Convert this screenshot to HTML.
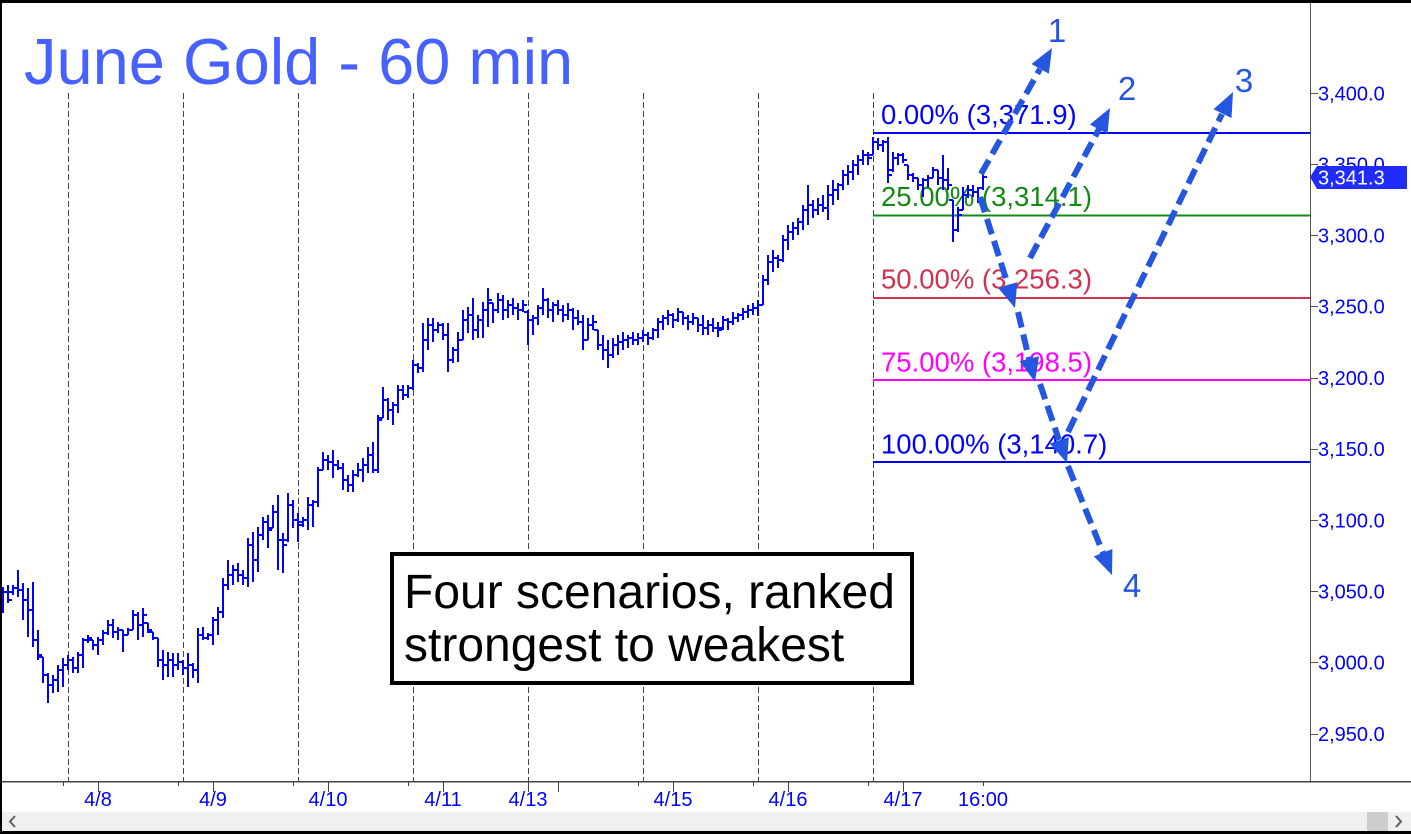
<!DOCTYPE html>
<html>
<head>
<meta charset="utf-8">
<style>
html,body{margin:0;padding:0;background:#fff;}
body{width:1411px;height:834px;overflow:hidden;position:relative;font-family:"Liberation Sans",Arial,sans-serif;}
svg{position:absolute;left:0;top:0;}
</style>
</head>
<body>
<svg width="1411" height="834" viewBox="0 0 1411 834" xmlns="http://www.w3.org/2000/svg" font-family="Liberation Sans, Arial, sans-serif">
<rect x="0" y="0" width="1411" height="834" fill="#ffffff"/>
<g stroke="#444" stroke-width="1" stroke-dasharray="6 3" shape-rendering="crispEdges">
<line x1="68.5" y1="93" x2="68.5" y2="781"/>
<line x1="183.5" y1="93" x2="183.5" y2="781"/>
<line x1="298.5" y1="93" x2="298.5" y2="781"/>
<line x1="413.5" y1="93" x2="413.5" y2="781"/>
<line x1="528.5" y1="93" x2="528.5" y2="781"/>
<line x1="643.5" y1="93" x2="643.5" y2="781"/>
<line x1="758.5" y1="93" x2="758.5" y2="781"/>
<line x1="873.5" y1="93" x2="873.5" y2="781"/>
</g>
<text x="24" y="84" font-size="65" fill="#4661ff">June Gold - 60 min</text>
<g stroke-width="2" shape-rendering="crispEdges">
<line x1="873" y1="133" x2="1310" y2="133" stroke="#0000ff"/>
<line x1="873" y1="215.5" x2="1310" y2="215.5" stroke="#138a13"/>
<line x1="873" y1="298" x2="1310" y2="298" stroke="#d23250"/>
<line x1="873" y1="380" x2="1310" y2="380" stroke="#ff00ff"/>
<line x1="873" y1="462" x2="1310" y2="462" stroke="#0000ff"/>
</g>
<g font-size="27.5">
<text x="881" y="124" fill="#0000ff">0.00% (3,371.9)</text>
<text x="881" y="206" fill="#138a13">25.00% (3,314.1)</text>
<text x="881" y="288.5" fill="#d23250">50.00% (3,256.3)</text>
<text x="881" y="371.5" fill="#ff00ff">75.00% (3,198.5)</text>
<text x="881" y="453.5" fill="#0000ff">100.00% (3,140.7)</text>
</g>
<path fill="none" stroke="#0000ff" stroke-width="2.2" shape-rendering="crispEdges" d="M3 587V613M-1 605h4M3 592h4M8 585V603M4 592h4M8 600h4M13 585V595M9 592h4M13 588h4M18 570V597M14 588h4M18 590h4M23 583V620M19 590h4M23 600h4M28 588V637M24 600h4M28 610h4M33 582V647M29 610h4M33 640h4M38 630V660M34 640h4M38 655h4M43 657V683M39 657h4M43 675h4M48 673V703M44 675h4M48 685h4M53 675V693M49 685h4M53 680h4M58 665V692M54 680h4M58 670h4M63 658V687M59 670h4M63 665h4M68 655V670M64 665h4M68 660h4M73 657V673M69 660h4M73 668h4M78 652V673M74 668h4M78 655h4M83 638V668M79 655h4M83 640h4M88 635V643M84 640h4M88 638h4M93 640V650M89 640h4M93 645h4M98 637V655M94 645h4M98 640h4M103 630V645M99 640h4M103 633h4M108 620V635M104 633h4M108 625h4M113 619V638M109 625h4M113 632h4M118 627V640M114 632h4M118 630h4M123 630V652M119 630h4M123 635h4M128 628V635M124 635h4M128 630h4M133 610V630M129 630h4M133 615h4M138 612V640M134 615h4M138 625h4M143 608V637M139 625h4M143 615h4M148 623V633M144 623h4M148 630h4M153 632V640M149 632h4M153 638h4M158 638V667M154 638h4M158 660h4M163 650V680M159 660h4M163 665h4M168 652V677M164 665h4M168 660h4M173 653V677M169 660h4M173 665h4M178 653V670M174 665h4M178 662h4M183 660V675M179 662h4M183 668h4M188 653V687M184 668h4M188 665h4M193 663V678M189 665h4M193 670h4M198 628V683M194 670h4M198 635h4M203 627V640M199 635h4M203 638h4M208 633V640M204 638h4M208 635h4M213 617V645M209 635h4M213 620h4M218 607V635M214 620h4M218 612h4M223 578V618M219 612h4M223 585h4M228 560V590M224 585h4M228 575h4M233 565V585M229 575h4M233 570h4M238 563V582M234 570h4M238 575h4M243 570V585M239 575h4M243 578h4M248 538V587M244 578h4M248 545h4M253 532V582M249 545h4M253 560h4M258 527V572M254 560h4M258 535h4M263 517V540M259 535h4M263 522h4M268 515V548M264 522h4M268 530h4M273 505V528M269 528h4M273 512h4M278 495V570M274 512h4M278 540h4M283 533V573M279 540h4M283 545h4M288 493V542M284 540h4M288 505h4M293 500V528M289 505h4M293 520h4M298 513V542M294 520h4M298 525h4M303 517V527M299 522h4M303 520h4M308 497V530M304 520h4M308 505h4M313 500V527M309 505h4M313 502h4M318 467V507M314 502h4M318 470h4M323 452V470M319 470h4M323 460h4M328 455V470M324 460h4M328 462h4M333 450V478M329 462h4M333 465h4M338 460V470M334 465h4M338 468h4M343 463V490M339 468h4M343 480h4M348 475V492M344 480h4M348 485h4M353 470V492M349 485h4M353 475h4M358 463V477M354 475h4M358 470h4M363 458V482M359 470h4M363 465h4M368 447V473M364 465h4M368 455h4M373 442V473M369 455h4M373 470h4M378 415V473M374 470h4M378 420h4M383 387V418M379 418h4M383 400h4M388 398V420M384 400h4M388 410h4M393 402V425M389 410h4M393 405h4M398 385V413M394 405h4M398 390h4M403 385V400M399 390h4M403 395h4M408 385V398M404 395h4M408 388h4M413 360V390M409 388h4M413 365h4M418 363V373M414 365h4M418 368h4M423 323V372M419 368h4M423 340h4M428 318V350M424 340h4M428 325h4M433 318V342M429 325h4M433 330h4M438 322V333M434 330h4M438 325h4M443 323V340M439 325h4M443 335h4M448 323V372M444 335h4M448 360h4M453 347V363M449 360h4M453 350h4M458 332V362M454 350h4M458 340h4M463 310V340M459 340h4M463 320h4M468 307V333M464 320h4M468 315h4M473 298V340M469 315h4M473 330h4M478 315V338M474 330h4M478 320h4M483 302V338M479 320h4M483 310h4M488 288V327M484 310h4M488 300h4M493 303V323M489 303h4M493 310h4M498 293V313M494 310h4M498 300h4M503 295V320M499 300h4M503 310h4M508 300V318M504 310h4M508 305h4M513 298V315M509 305h4M513 308h4M518 303V320M514 308h4M518 310h4M523 300V312M519 310h4M523 305h4M528 310V345M524 312h4M528 320h4M533 315V335M529 320h4M533 318h4M538 305V325M534 318h4M538 308h4M543 288V315M539 308h4M543 300h4M548 298V318M544 300h4M548 310h4M553 302V322M549 310h4M553 305h4M558 300V315M554 305h4M558 310h4M563 305V322M559 310h4M563 315h4M568 303V320M564 315h4M568 310h4M573 308V330M569 310h4M573 318h4M578 310V325M574 318h4M578 322h4M583 315V350M579 322h4M583 340h4M588 318V340M584 340h4M588 325h4M593 315V330M589 325h4M593 322h4M598 330V350M594 330h4M598 345h4M603 335V360M599 345h4M603 350h4M608 340V368M604 350h4M608 355h4M613 338V358M609 355h4M613 345h4M618 335V355M614 345h4M618 342h4M623 332V350M619 342h4M623 340h4M628 335V348M624 340h4M628 338h4M633 332V345M629 338h4M633 340h4M638 333V345M634 340h4M638 338h4M643 330V342M639 338h4M643 335h4M648 332V345M644 335h4M648 338h4M653 328V340M649 338h4M653 330h4M658 318V338M654 330h4M658 322h4M663 315V330M659 322h4M663 318h4M668 310V325M664 318h4M668 315h4M673 313V328M669 315h4M673 320h4M678 308V322M674 320h4M678 312h4M683 312V325M679 312h4M683 318h4M688 315V330M684 318h4M688 322h4M693 313V325M689 322h4M693 318h4M698 318V332M694 318h4M698 325h4M703 315V335M699 325h4M703 328h4M708 320V335M704 328h4M708 325h4M713 318V332M709 325h4M713 328h4M718 322V337M714 328h4M718 330h4M723 316V330M719 328h4M723 320h4M728 318V330M724 320h4M728 322h4M733 312V325M729 322h4M733 318h4M738 313V322M734 318h4M738 315h4M743 308V320M739 315h4M743 312h4M748 305V318M744 312h4M748 310h4M753 303V315M749 310h4M753 308h4M758 300V316M754 308h4M758 305h4M763 275V305M759 305h4M763 280h4M768 255V285M764 280h4M768 262h4M773 250V272M769 262h4M773 258h4M778 255V268M774 258h4M778 260h4M783 235V262M779 260h4M783 240h4M788 225V250M784 240h4M788 232h4M793 222V240M789 232h4M793 228h4M798 218V235M794 228h4M798 222h4M803 205V230M799 222h4M803 210h4M808 185V225M804 210h4M808 205h4M813 200V218M809 205h4M813 210h4M818 198V215M814 210h4M818 205h4M823 195V212M819 205h4M823 208h4M828 185V220M824 208h4M828 195h4M833 180V205M829 195h4M833 190h4M838 183V200M834 190h4M838 185h4M843 170V190M839 185h4M843 175h4M848 165V185M844 175h4M848 172h4M853 160V180M849 172h4M853 165h4M858 155V175M854 165h4M858 160h4M863 150V165M859 160h4M863 155h4M868 152V165M864 155h4M868 158h4M873 137V155M869 155h4M873 142h4M878 138V150M874 142h4M878 145h4M883 140V152M879 145h4M883 142h4M888 137V183M884 142h4M888 175h4M893 152V172M889 170h4M893 158h4M898 153V165M894 158h4M898 155h4M903 153V163M899 155h4M903 160h4M908 165V180M904 165h4M908 175h4M913 173V182M909 175h4M913 178h4M918 178V190M914 178h4M918 185h4M923 178V197M919 185h4M923 180h4M928 175V187M924 180h4M928 178h4M933 167V178M929 178h4M933 170h4M938 170V185M934 170h4M938 178h4M943 155V190M939 178h4M943 180h4M948 168V190M944 180h4M948 185h4M953 200V242M949 200h4M953 230h4M958 207V232M954 230h4M958 215h4M963 187V210M959 210h4M963 195h4M968 185V198M964 195h4M968 190h4M973 185V197M969 190h4M973 192h4M978 187V203M974 192h4M978 188h4M983 172V190M979 188h4M983 177h4"/>
<rect x="392" y="554" width="520" height="129" fill="#ffffff" stroke="#000" stroke-width="4"/>
<text x="404" y="608" font-size="48" fill="#000">Four scenarios, ranked</text>
<text x="404" y="661" font-size="48" fill="#000">strongest to weakest</text>
<g stroke="#2456e0" stroke-width="6" stroke-dasharray="16 7" fill="none">
<line x1="981" y1="174" x2="1040" y2="69"/>
<line x1="1030" y1="258" x2="1099" y2="129"/>
<line x1="1068" y1="432" x2="1222" y2="114"/>
<line x1="980" y1="197" x2="1008" y2="285"/>
<line x1="1018" y1="312" x2="1029" y2="359"/>
<line x1="1040" y1="384" x2="1059" y2="440"/>
<line x1="1068" y1="466" x2="1103" y2="553"/>
</g>
<g fill="#2456e0">
<polygon points="1052,48 1048.9,73.8 1031.5,64"/>
<polygon points="1110,108 1107.5,133.9 1089.9,124.5"/>
<polygon points="1233,92 1231.5,118 1213.5,109.2"/>
<polygon points="1015,308 1017.3,282.1 998.3,288.1"/>
<polygon points="1035,382 1039,356.3 1019.6,361.1"/>
<polygon points="1067,463 1068.8,437.1 1049.8,443.5"/>
<polygon points="1112,575 1112.4,549 1093.8,556.4"/>
</g>
<g font-size="33" fill="#2456e0" text-anchor="middle">
<text x="1057" y="42">1</text>
<text x="1127" y="100">2</text>
<text x="1244" y="92">3</text>
<text x="1132" y="597">4</text>
</g>
<line x1="1310.5" y1="0" x2="1310.5" y2="781" stroke="#555" stroke-width="1" shape-rendering="crispEdges"/>
<g stroke="#555" stroke-width="1" shape-rendering="crispEdges">
<line x1="1310" y1="93.5" x2="1318" y2="93.5"/>
<line x1="1310" y1="164.5" x2="1318" y2="164.5"/>
<line x1="1310" y1="235.5" x2="1318" y2="235.5"/>
<line x1="1310" y1="306.5" x2="1318" y2="306.5"/>
<line x1="1310" y1="378.5" x2="1318" y2="378.5"/>
<line x1="1310" y1="449.5" x2="1318" y2="449.5"/>
<line x1="1310" y1="520.5" x2="1318" y2="520.5"/>
<line x1="1310" y1="591.5" x2="1318" y2="591.5"/>
<line x1="1310" y1="662.5" x2="1318" y2="662.5"/>
<line x1="1310" y1="734.5" x2="1318" y2="734.5"/>
</g>
<g font-size="20" fill="#0000ff">
<text x="1318" y="100.5">3,400.0</text>
<text x="1318" y="171.5">3,350.0</text>
<text x="1318" y="242.5">3,300.0</text>
<text x="1318" y="313.5">3,250.0</text>
<text x="1318" y="385">3,200.0</text>
<text x="1318" y="456">3,150.0</text>
<text x="1318" y="527.5">3,100.0</text>
<text x="1318" y="598.5">3,050.0</text>
<text x="1318" y="669.5">3,000.0</text>
<text x="1318" y="741">2,950.0</text>
</g>
<polygon points="1310,177 1317,166 1407,166 1407,189 1317,189" fill="#1f2bff"/>
<text x="1318" y="184.5" font-size="20" fill="#ffffff">3,341.3</text>
<line x1="0" y1="781.5" x2="1411" y2="781.5" stroke="#444" stroke-width="1.5" shape-rendering="crispEdges"/>
<g stroke="#444" stroke-width="1" shape-rendering="crispEdges">
<line x1="98.5" y1="781" x2="98.5" y2="792"/>
<line x1="213.5" y1="781" x2="213.5" y2="792"/>
<line x1="328.5" y1="781" x2="328.5" y2="792"/>
<line x1="443.5" y1="781" x2="443.5" y2="792"/>
<line x1="528.5" y1="781" x2="528.5" y2="792"/>
<line x1="558.5" y1="781" x2="558.5" y2="792"/>
<line x1="673.5" y1="781" x2="673.5" y2="792"/>
<line x1="788.5" y1="781" x2="788.5" y2="792"/>
<line x1="903.5" y1="781" x2="903.5" y2="792"/>
<line x1="983.5" y1="781" x2="983.5" y2="786"/>
<line x1="63.5" y1="781" x2="63.5" y2="786"/>
<line x1="178.5" y1="781" x2="178.5" y2="786"/>
<line x1="293.5" y1="781" x2="293.5" y2="786"/>
<line x1="408.5" y1="781" x2="408.5" y2="786"/>
<line x1="638.5" y1="781" x2="638.5" y2="786"/>
<line x1="753.5" y1="781" x2="753.5" y2="786"/>
<line x1="868.5" y1="781" x2="868.5" y2="786"/>
</g>
<g font-size="20" fill="#0000ff" text-anchor="middle">
<text x="98" y="806">4/8</text>
<text x="213" y="806">4/9</text>
<text x="328" y="806">4/10</text>
<text x="443" y="806">4/11</text>
<text x="528" y="806">4/13</text>
<text x="673" y="806">4/15</text>
<text x="788" y="806">4/16</text>
<text x="903" y="806">4/17</text>
<text x="983" y="806">16:00</text>
</g>
<rect x="0" y="812" width="1411" height="19" fill="#f0f0f0"/>
<rect x="1367" y="812" width="21" height="19" fill="#cdcdcd"/>
<path d="M15 816 L10 821.5 L15 827" stroke="#606060" stroke-width="2" fill="none"/>
<path d="M1396 816 L1401 821.5 L1396 827" stroke="#606060" stroke-width="2" fill="none"/>
<rect x="0" y="0" width="1411" height="3" fill="#000"/>
<rect x="0" y="0" width="2" height="834" fill="#000"/>
<rect x="0" y="831" width="1411" height="3" fill="#000"/>
</svg>
</body>
</html>
